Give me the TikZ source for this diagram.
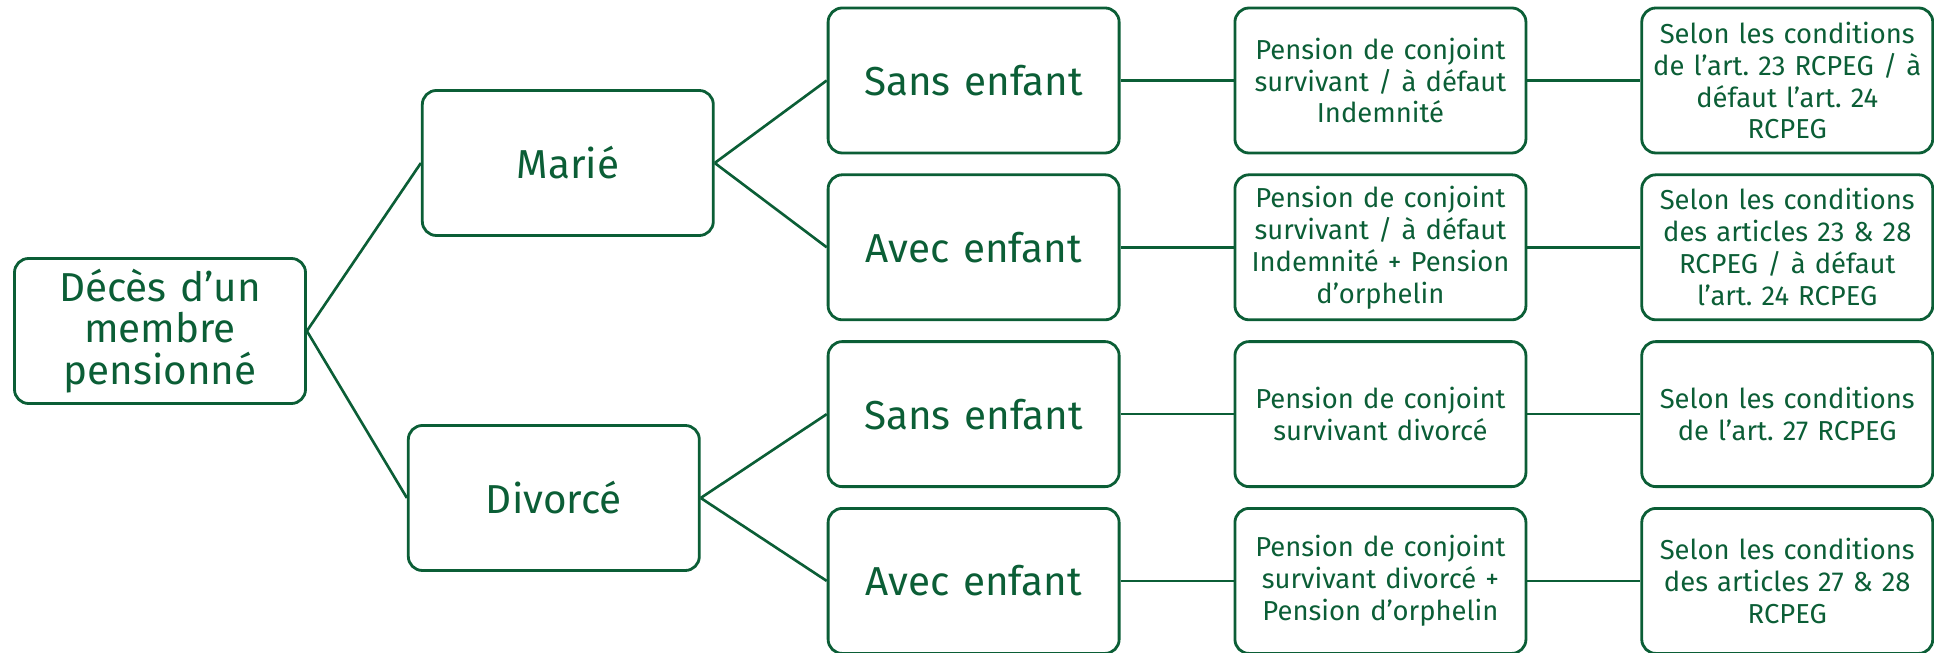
\documentclass[tikz,border=0pt]{standalone}
\usepackage{fontspec}
\setmainfont{Fira Sans}
\usepackage{xcolor}
\definecolor{pensiongreen}{HTML}{0B5E36}
\usepackage{tikz}
\usetikzlibrary{
  positioning
}
\frenchspacing

\begin{document}
\begin{tikzpicture}[
  node distance=1.13cm,
  cbox/.style={
    rectangle, rounded corners=4pt, minimum width=2.91cm, minimum height=1.45cm,
    text width=2.85cm, inner xsep=0.03cm, inner ysep=1pt,
    align=center, draw=pensiongreen, line width=0.8pt, text=pensiongreen
  },
  bigbox/.style={cbox, font=\fontsize{11.5}{11.8}\selectfont},
  smallbox/.style={cbox, font=\fontsize{7.8}{9.1}\selectfont},
  link/.style={draw=pensiongreen, line width=0.75pt}
]

\node[bigbox] (root) at (0,0) {D\'ec\`es d’un\\membre\\pensionn\'e};
\node[bigbox, right=1.14cm of root, yshift=1.68cm] (marie) {Mari\'e};
\node[bigbox, right=1.00cm of root, yshift=-1.67cm] (divorce) {Divorc\'e};

\node[bigbox, right=1.12cm of marie, yshift=0.825cm] (ms) {Sans enfant};
\node[bigbox, below=0.19cm of ms] (ma) {Avec enfant};
\node[bigbox, below=0.19cm of ma] (ds) {Sans enfant};
\node[bigbox, below=0.19cm of ds] (da) {Avec enfant};

\node[smallbox, right=of ms] (msp) {Pension de conjoint\\survivant / \`a d\'efaut\\Indemnit\'e};
\node[smallbox, right=of ma] (map) {Pension de conjoint\\survivant / \`a d\'efaut\\Indemnit\'e + Pension\\d’orphelin};
\node[smallbox, right=of ds] (dsp) {Pension de conjoint\\survivant divorc\'e};
\node[smallbox, right=of da] (dap) {Pension de conjoint\\survivant divorc\'e +\\Pension d’orphelin};

\node[smallbox, right=of msp] (msc) {Selon les conditions\\de l’art. 23 RCPEG / \`a\\d\'efaut l’art. 24\\RCPEG};
\node[smallbox, right=of map] (mac) {Selon les conditions\\des articles 23 \& 28\\RCPEG / \`a d\'efaut\\l’art. 24 RCPEG};
\node[smallbox, right=of dsp] (dsc) {Selon les conditions\\de l’art. 27 RCPEG};
\node[smallbox, right=of dap] (dac) {Selon les conditions\\des articles 27 \& 28\\RCPEG};

\draw[link] (root.east) -- (marie.west);
\draw[link] (root.east) -- (divorce.west);
\draw[link] (marie.east) -- (ms.west);
\draw[link] (marie.east) -- (ma.west);
\draw[link] (divorce.east) -- (ds.west);
\draw[link] (divorce.east) -- (da.west);
\draw[link] (ms.east) -- (msp.west);
\draw[link] (ma.east) -- (map.west);
\draw[link] (ds.east) -- (dsp.west);
\draw[link] (da.east) -- (dap.west);
\draw[link] (msp.east) -- (msc.west);
\draw[link] (map.east) -- (mac.west);
\draw[link] (dsp.east) -- (dsc.west);
\draw[link] (dap.east) -- (dac.west);

\pgfresetboundingbox
\useasboundingbox (-1.60,-3.22) rectangle (17.74,3.31);

\end{tikzpicture}
\end{document}
